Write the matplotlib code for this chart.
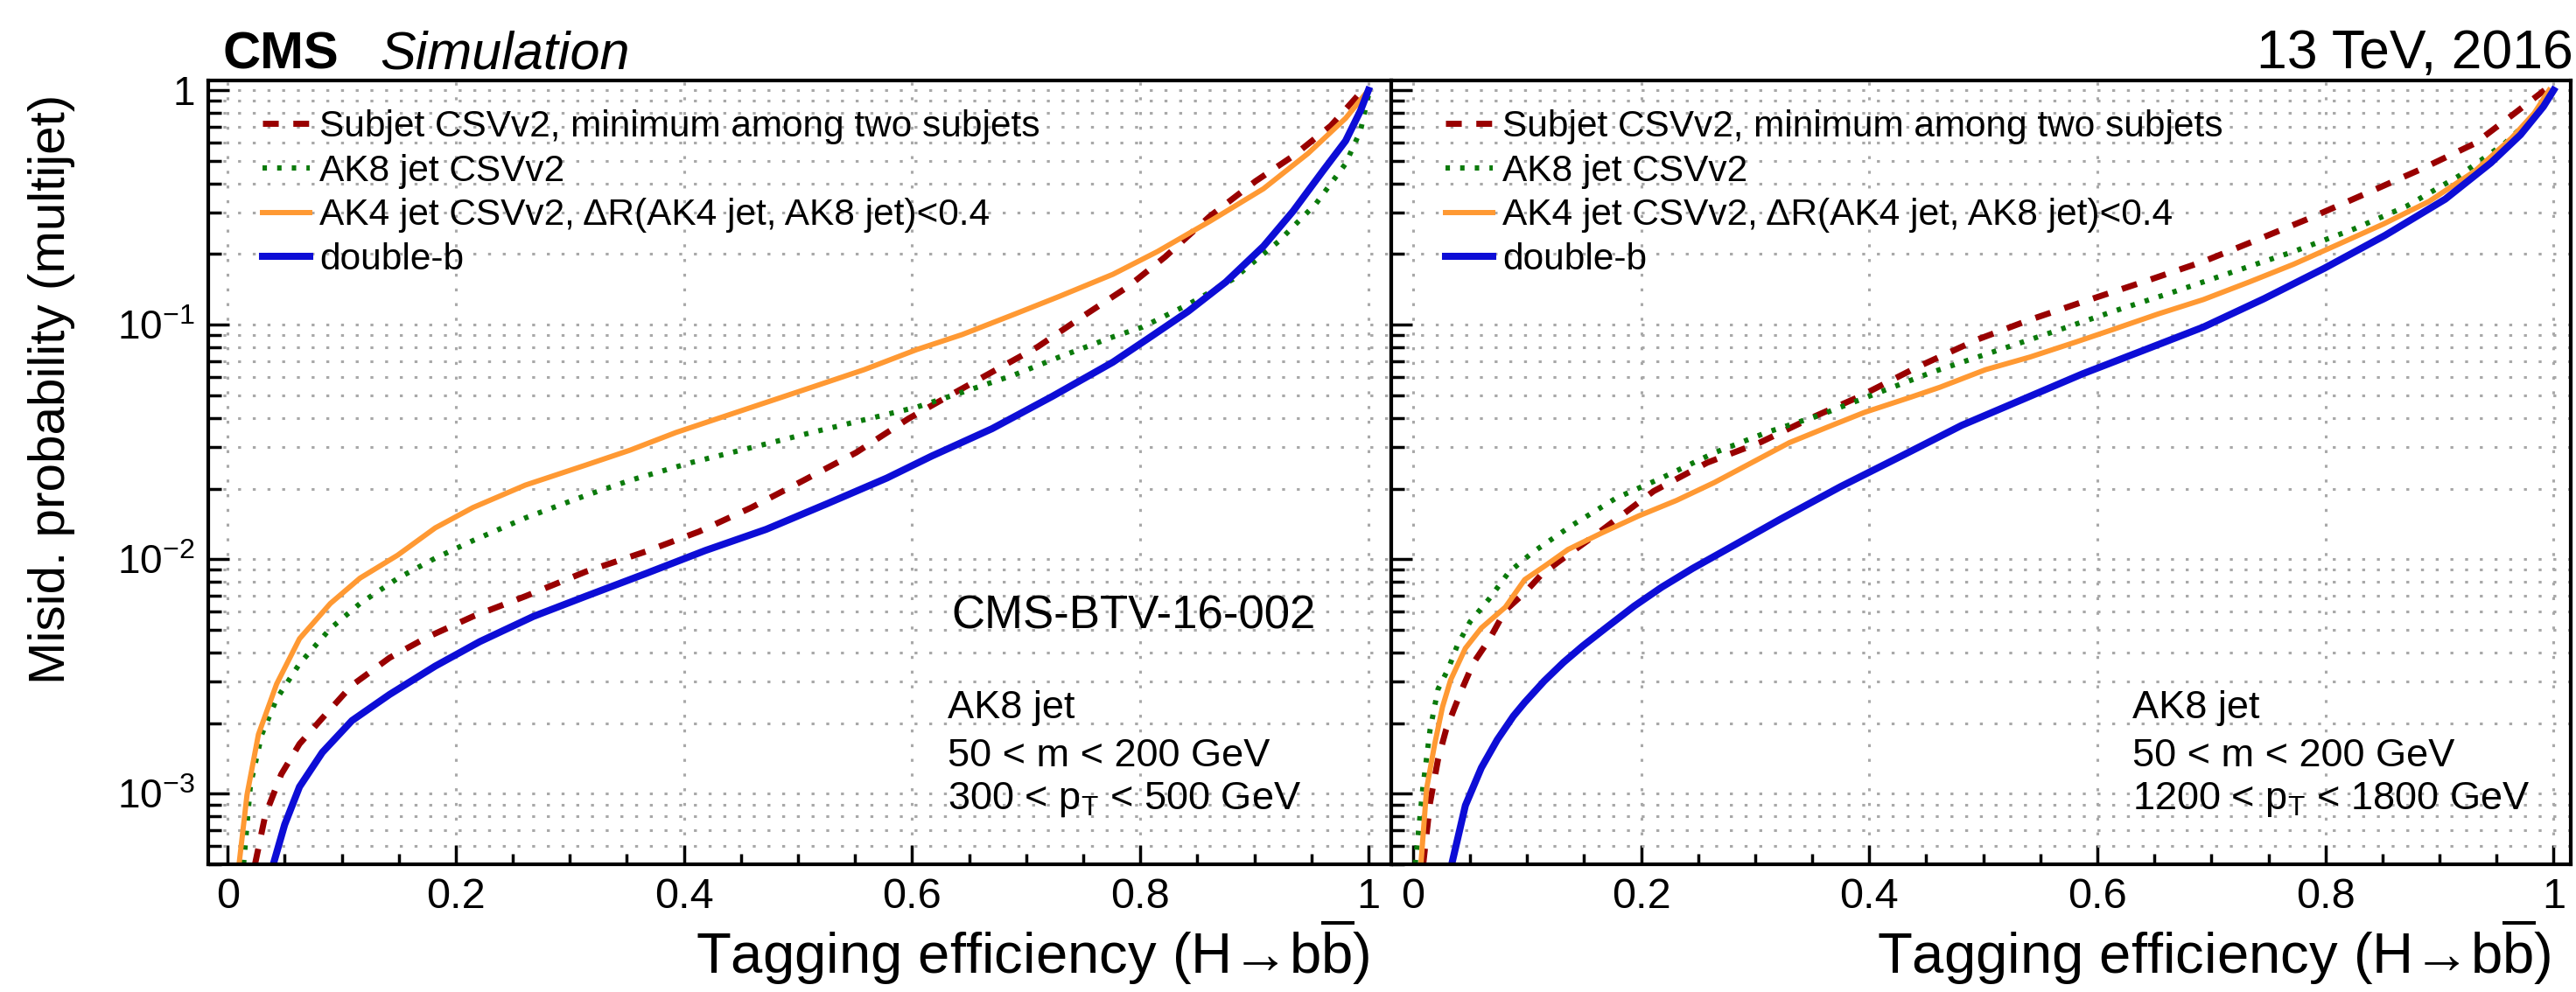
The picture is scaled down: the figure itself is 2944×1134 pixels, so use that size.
import matplotlib
matplotlib.use('Agg')
import numpy as np
import matplotlib.pyplot as plt
from matplotlib.ticker import (FixedLocator, FixedFormatter, MultipleLocator,
                               LogLocator, NullFormatter)

plt.rcParams['font.family'] = ['Liberation Sans', 'DejaVu Sans']
plt.rcParams['mathtext.fontset'] = 'custom'
plt.rcParams['mathtext.rm'] = 'Liberation Sans'
plt.rcParams['mathtext.it'] = 'Liberation Sans:italic'
plt.rcParams['mathtext.bf'] = 'Liberation Sans:bold'

# taggers, in legend order
tagger_labels = ['Subjet CSVv2, minimum among two subjets',
                 'AK8 jet CSVv2',
                 'AK4 jet CSVv2, \u0394R(AK4 jet, AK8 jet)<0.4',
                 'double-b']

# left panel: 300 < pT < 500 GeV  (efficiency, misid. probability)
eff_subjet_lo = [0.024, 0.033, 0.047, 0.063, 0.083, 0.109, 0.142, 0.175, 0.215, 0.261,
                 0.314, 0.367, 0.413, 0.459, 0.505, 0.551, 0.597, 0.630, 0.670, 0.710,
                 0.749, 0.789, 0.822, 0.861, 0.901, 0.934, 0.967, 0.995]
mis_subjet_lo = [5.0e-4, 8.1e-4, 1.21e-3, 1.63e-3, 2.10e-3, 2.90e-3, 3.80e-3, 4.65e-3, 5.70e-3, 6.95e-3,
                 8.85e-3, 1.08e-2, 1.31e-2, 1.66e-2, 2.17e-2, 2.85e-2, 3.98e-2, 4.90e-2, 6.28e-2, 8.04e-2,
                 0.108, 0.145, 0.195, 0.290, 0.409, 0.524, 0.705, 1.0]

eff_ak8_lo = [0.014, 0.020, 0.030, 0.043, 0.063, 0.090, 0.116, 0.149, 0.182, 0.215,
              0.261, 0.314, 0.353, 0.406, 0.459, 0.512, 0.558, 0.604, 0.644, 0.690,
              0.729, 0.776, 0.802, 0.842, 0.881, 0.921, 0.954, 0.980, 0.993, 1.0]
mis_ak8_lo = [5.0e-4, 1.09e-3, 1.79e-3, 2.54e-3, 3.58e-3, 5.06e-3, 6.47e-3, 8.28e-3, 1.01e-2, 1.20e-2,
              1.50e-2, 1.87e-2, 2.17e-2, 2.58e-2, 2.99e-2, 3.47e-2, 3.93e-2, 4.45e-2, 5.15e-2, 6.12e-2,
              7.28e-2, 8.87e-2, 9.77e-2, 0.122, 0.156, 0.226, 0.328, 0.486, 0.671, 0.95]

eff_ak4_lo = [0.010, 0.017, 0.027, 0.043, 0.063, 0.090, 0.116, 0.149, 0.182, 0.215,
              0.261, 0.314, 0.353, 0.393, 0.446, 0.512, 0.558, 0.604, 0.644, 0.690,
              0.729, 0.776, 0.815, 0.861, 0.908, 0.947, 0.980, 1.0]
mis_ak4_lo = [5.0e-4, 9.9e-4, 1.79e-3, 2.94e-3, 4.58e-3, 6.47e-3, 8.30e-3, 1.04e-2, 1.36e-2, 1.66e-2,
              2.07e-2, 2.52e-2, 2.92e-2, 3.47e-2, 4.23e-2, 5.41e-2, 6.43e-2, 7.83e-2, 9.08e-2, 0.111,
              0.132, 0.164, 0.205, 0.276, 0.380, 0.537, 0.759, 1.0]

eff_dbb_lo = [0.040, 0.050, 0.063, 0.083, 0.109, 0.142, 0.182, 0.221, 0.268, 0.314,
              0.367, 0.419, 0.472, 0.525, 0.578, 0.617, 0.670, 0.723, 0.776, 0.809,
              0.842, 0.875, 0.908, 0.934, 0.960, 0.980, 0.993, 1.0]
mis_dbb_lo = [5.0e-4, 7.38e-4, 1.07e-3, 1.50e-3, 2.05e-3, 2.65e-3, 3.50e-3, 4.45e-3, 5.70e-3, 6.95e-3,
              8.70e-3, 1.09e-2, 1.34e-2, 1.72e-2, 2.22e-2, 2.75e-2, 3.60e-2, 4.95e-2, 6.92e-2, 8.87e-2,
              0.114, 0.152, 0.216, 0.305, 0.452, 0.608, 0.817, 1.0]

# right panel: 1200 < pT < 1800 GeV
eff_subjet_hi = [0.009, 0.015, 0.022, 0.029, 0.036, 0.043, 0.053, 0.067, 0.081, 0.098,
                 0.112, 0.129, 0.163, 0.211, 0.258, 0.304, 0.350, 0.390, 0.442, 0.495,
                 0.541, 0.587, 0.640, 0.693, 0.739, 0.785, 0.838, 0.884, 0.931, 0.963, 0.992]
mis_subjet_hi = [5.0e-4, 9.14e-4, 1.40e-3, 1.87e-3, 2.29e-3, 2.79e-3, 3.61e-3, 4.55e-3, 6.05e-3, 7.19e-3,
                 8.53e-3, 9.86e-3, 1.30e-2, 1.95e-2, 2.58e-2, 3.14e-2, 4.02e-2, 4.90e-2, 6.59e-2, 8.65e-2,
                 0.105, 0.125, 0.152, 0.186, 0.229, 0.283, 0.367, 0.461, 0.593, 0.778, 1.0]

eff_ak8_hi = [0.002, 0.0086, 0.015, 0.022, 0.031, 0.039, 0.050, 0.067, 0.084, 0.105,
              0.139, 0.178, 0.218, 0.264, 0.310, 0.357, 0.403, 0.455, 0.508, 0.561,
              0.614, 0.667, 0.719, 0.772, 0.825, 0.871, 0.917, 0.957, 0.983, 0.996]
mis_ak8_hi = [5.0e-4, 1.05e-3, 1.87e-3, 2.79e-3, 3.41e-3, 4.30e-3, 5.40e-3, 6.79e-3, 8.79e-3, 1.07e-2,
              1.39e-2, 1.82e-2, 2.22e-2, 2.84e-2, 3.47e-2, 4.12e-2, 5.02e-2, 6.27e-2, 7.64e-2, 9.31e-2,
              0.114, 0.138, 0.168, 0.205, 0.256, 0.320, 0.431, 0.593, 0.778, 1.0]

eff_ak4_hi = [0.007, 0.012, 0.019, 0.026, 0.033, 0.046, 0.060, 0.081, 0.098, 0.115,
              0.136, 0.165, 0.198, 0.231, 0.264, 0.297, 0.330, 0.363, 0.396, 0.436,
              0.462, 0.502, 0.541, 0.581, 0.614, 0.653, 0.693, 0.733, 0.772, 0.812,
              0.851, 0.891, 0.931, 0.963, 0.983, 0.996]
mis_ak4_hi = [5.0e-4, 1.05e-3, 1.62e-3, 2.35e-3, 3.05e-3, 4.17e-3, 5.09e-3, 6.24e-3, 8.18e-3, 9.31e-3,
              1.10e-2, 1.29e-2, 1.53e-2, 1.78e-2, 2.12e-2, 2.58e-2, 3.14e-2, 3.65e-2, 4.23e-2, 4.90e-2,
              5.41e-2, 6.43e-2, 7.28e-2, 8.43e-2, 9.55e-2, 0.111, 0.128, 0.152, 0.181, 0.221,
              0.269, 0.336, 0.452, 0.624, 0.798, 1.0]

eff_dbb_hi = [0.034, 0.046, 0.060, 0.074, 0.088, 0.098, 0.115, 0.132, 0.149, 0.170,
              0.194, 0.218, 0.245, 0.282, 0.322, 0.375, 0.428, 0.481, 0.534, 0.587,
              0.640, 0.693, 0.746, 0.799, 0.852, 0.905, 0.945, 0.971, 0.991, 1.0]
mis_dbb_hi = [5.0e-4, 8.91e-4, 1.29e-3, 1.70e-3, 2.14e-3, 2.45e-3, 3.02e-3, 3.63e-3, 4.27e-3, 5.13e-3,
              6.31e-3, 7.59e-3, 9.12e-3, 1.15e-2, 1.48e-2, 2.04e-2, 2.75e-2, 3.72e-2, 4.79e-2, 6.17e-2,
              7.76e-2, 9.77e-2, 0.129, 0.174, 0.240, 0.343, 0.490, 0.646, 0.851, 1.0]

# axis ticks
x_ticks = [0, 0.2, 0.4, 0.6, 0.8, 1.0]
x_tick_labels = ['0', '0.2', '0.4', '0.6', '0.8', '1']
y_ticks = [1e-3, 1e-2, 1e-1, 1]
y_tick_labels = ['$10^{-3}$', '$10^{-2}$', '$10^{-1}$', '1']

# panel annotations
kin_lo = ['AK8 jet', '50 < m < 200 GeV', '300 < p$_{\\mathrm{T}}$ < 500 GeV']
kin_hi = ['AK8 jet', '50 < m < 200 GeV', '1200 < p$_{\\mathrm{T}}$ < 1800 GeV']

# line styles (ROOT-like)
colors = ['#990000', '#0b7a0b', '#ff9933', '#0d0dd6']
styles = [(0, (2.6, 2.4)), (0, (0.85, 1.95)), '-', '-']
widths = [5.0, 4.3, 4.3, 5.8]

grid_kw = dict(color='#a8a8a8', linestyle=(0, (1.1, 4.4)), linewidth=2.2)


def setup_panel(ax, xmin, xmax, show_ylabels):
    '''log y axis, ROOT style ticks and dotted grid'''
    ax.set_yscale('log')
    ax.set_xlim(xmin, xmax)
    ax.set_ylim(5e-4, 1.1)

    ax.xaxis.set_major_locator(FixedLocator(x_ticks))
    ax.xaxis.set_major_formatter(FixedFormatter(x_tick_labels))
    ax.xaxis.set_minor_locator(MultipleLocator(0.05))
    ax.yaxis.set_major_locator(FixedLocator(y_ticks))
    ax.yaxis.set_minor_locator(LogLocator(base=10, subs=np.arange(2, 10)))
    ax.yaxis.set_minor_formatter(NullFormatter())
    if show_ylabels:
        ax.yaxis.set_major_formatter(FixedFormatter(y_tick_labels))

    ax.tick_params(which='both', direction='in', top=False, right=False, width=2.5)
    ax.tick_params(axis='x', which='major', length=16, pad=11, labelsize=35)
    ax.tick_params(axis='x', which='minor', length=9)
    ax.tick_params(axis='y', which='major', length=17, pad=11, labelsize=33,
                   labelleft=show_ylabels)
    ax.tick_params(axis='y', which='minor', length=11)

    ax.grid(True, which='major', axis='x', **grid_kw)
    ax.grid(True, which='both', axis='y', **grid_kw)
    for sp in ax.spines.values():
        sp.set_linewidth(3)


fig = plt.figure(figsize=(29.44, 11.34), dpi=100)
ax_lo = fig.add_axes([0.08084, 0.12875, 0.45924, 0.79012])
ax_hi = fig.add_axes([0.54008, 0.12875, 0.45788, 0.79012])

setup_panel(ax_lo, -0.017, 1.02, True)
setup_panel(ax_hi, -0.019, 1.015, False)

curves_lo = [(eff_subjet_lo, mis_subjet_lo), (eff_ak8_lo, mis_ak8_lo),
             (eff_ak4_lo, mis_ak4_lo), (eff_dbb_lo, mis_dbb_lo)]
curves_hi = [(eff_subjet_hi, mis_subjet_hi), (eff_ak8_hi, mis_ak8_hi),
             (eff_ak4_hi, mis_ak4_hi), (eff_dbb_hi, mis_dbb_hi)]

for ax, curves in ((ax_lo, curves_lo), (ax_hi, curves_hi)):
    for (eff, mis), lab, c, ls, lw in zip(curves, tagger_labels, colors, styles, widths):
        ax.plot(eff, mis, color=c, linestyle=ls, linewidth=lw, label=lab)
    ax.legend(loc='upper left', bbox_to_anchor=(0.046, 0.963), frameon=False,
              fontsize=30.5, handlelength=1.28, handletextpad=0.25,
              labelspacing=0.25, borderpad=0, borderaxespad=0)

# x axis titles, right aligned like ROOT
xlab = 'Tagging efficiency (H\u2192b$\\overline{\\mathrm{b}}$)'
for ax, xr in ((ax_lo, 0.982), (ax_hi, 0.983)):
    ax.set_xlabel(xlab, fontsize=47, ha='right', va='baseline')
    ax.xaxis.set_label_coords(xr, -0.1395)

# y axis title
fig.text(0.020, 0.905, 'Misid. probability (multijet)', rotation=90,
         ha='center', va='top', fontsize=42)

# panel texts
ax_lo.text(0.628, 0.301, 'CMS-BTV-16-002', transform=ax_lo.transAxes,
           fontsize=38, va='baseline')
for ax, lines, xt in ((ax_lo, kin_lo, 0.625), (ax_hi, kin_hi, 0.628)):
    for line, yt in zip(lines, [0.186, 0.125, 0.070]):
        ax.text(xt, yt, line, transform=ax.transAxes, fontsize=32.5, va='baseline')

# header
fig.text(0.0866, 0.931, 'CMS', fontsize=43, fontweight='bold', va='baseline')
fig.text(0.1474, 0.931, 'Simulation', fontsize=44, fontstyle='italic', va='baseline')
fig.text(0.999, 0.931, '13 TeV, 2016', fontsize=45, ha='right', va='baseline')

fig.savefig('out.png', dpi=100)
